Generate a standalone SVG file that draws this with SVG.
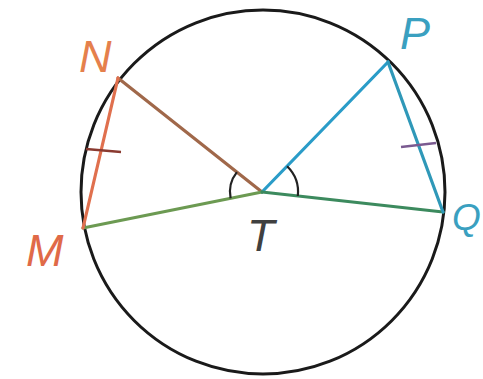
<svg xmlns="http://www.w3.org/2000/svg" width="483" height="379" viewBox="0 0 483 379">
<style>
.lbl{font-family:"Liberation Sans",Arial,sans-serif;font-style:italic;font-size:45px}
.ln{fill:none;stroke-width:3.2;stroke-linecap:round}
.ang{fill:none;stroke:#222;stroke-width:2.2}
</style>
<rect width="483" height="379" fill="#fff"/>
<g id="circle">
<circle cx="263" cy="192" r="182" fill="none" stroke="#1a1a1a" stroke-width="3"/>
</g>
<g id="connectors">
<line class="ln" x1="118" y1="78" x2="262" y2="192" stroke="#a0684a"/>
<line class="ln" x1="262" y1="192" x2="388" y2="62" stroke="#2a9cc8"/>
<line class="ln" x1="83" y1="228" x2="262" y2="192" stroke="#6c9a52"/>
<line class="ln" x1="262" y1="192" x2="443" y2="212" stroke="#3c8a5e"/>
<line class="ln" x1="118" y1="78" x2="83" y2="228" stroke="#e0704e"/>
<line class="ln" x1="388" y1="62" x2="443" y2="212" stroke="#2f98b8"/>
<line x1="86" y1="149" x2="121" y2="152" stroke="#8a3a30" stroke-width="2.5"/>
<line x1="401" y1="147" x2="436" y2="143" stroke="#7a5a90" stroke-width="2.5"/>
<path class="ang" d="M236.9,172.1 A32,32 0 0 0 230.6,198.3"/>
<path class="ang" d="M287.1,166.2 A36,36 0 0 1 297.8,196"/>
</g>
<g id="N"><text class="lbl" x="79" y="72" fill="#e5804c">N</text></g>
<g id="P"><text class="lbl" x="400" y="49" fill="#3aa0c0">P</text></g>
<g id="M"><text class="lbl" x="26" y="266" fill="#e06a48">M</text></g>
<g id="T"><text class="lbl" x="247" y="251" fill="#404040">T</text></g>
<g id="Q"><text class="lbl" x="452" y="230" fill="#3aa0c0" style="font-size:37px">Q</text></g>
</svg>
